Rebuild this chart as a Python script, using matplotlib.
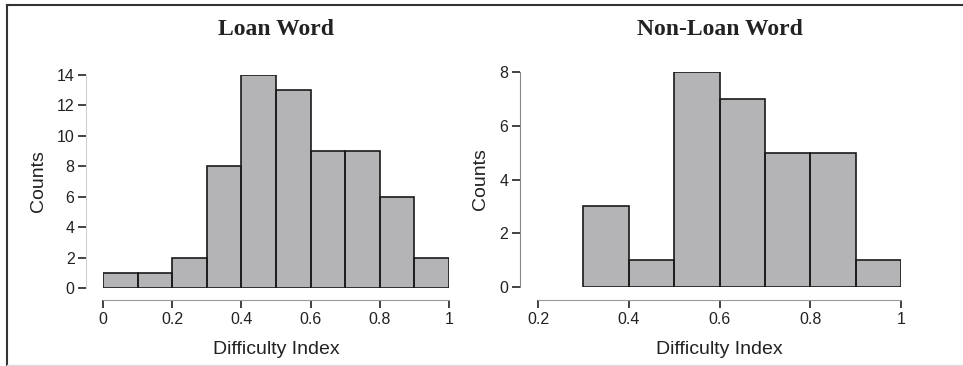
import numpy as np
import matplotlib
matplotlib.use('Agg')
import matplotlib.pyplot as plt
from matplotlib.lines import Line2D

# histogram data
loan_edges = [0.0, 0.1, 0.2, 0.3, 0.4, 0.5, 0.6, 0.7, 0.8, 0.9, 1.0]
loan_counts = [1, 1, 2, 8, 14, 13, 9, 9, 6, 2]
nonloan_edges = [0.3, 0.4, 0.5, 0.6, 0.7, 0.8, 0.9, 1.0]
nonloan_counts = [3, 1, 8, 7, 5, 5, 1]

loan_xticks = [0, 0.2, 0.4, 0.6, 0.8, 1]
loan_xlabels = ['0', '0.2', '0.4', '0.6', '0.8', '1']
loan_yticks = [0, 2, 4, 6, 8, 10, 12, 14]
nonloan_xticks = [0.2, 0.4, 0.6, 0.8, 1]
nonloan_xlabels = ['0.2', '0.4', '0.6', '0.8', '1']
nonloan_yticks = [0, 2, 4, 6, 8]

W, H = 963, 366
fig = plt.figure(figsize=(W / 100, H / 100), dpi=100)
plt.rcParams['font.family'] = 'Liberation Sans'

# R-like detached axes
def r_hist(rect, edges, counts, xlim, ylim, xticks, xlabels, yticks, title,
           yoff, xoff, title_pad, left_col):
    ax = fig.add_axes(rect)
    ax.stairs(counts, edges, fill=True, facecolor='#b4b4b6', edgecolor='none')
    ax.bar(edges[:-1], counts, width=np.diff(edges), align='edge',
           facecolor='none', edgecolor='#1a1a1a', linewidth=1.2)
    ax.set_xlim(*xlim)
    ax.set_ylim(*ylim)
    for s in ['top', 'right']:
        ax.spines[s].set_visible(False)
    ax.spines['left'].set_position(('outward', yoff))
    ax.spines['bottom'].set_position(('outward', xoff))
    ax.spines['left'].set_bounds(yticks[0], yticks[-1])
    ax.spines['bottom'].set_bounds(xticks[0], xticks[-1])
    ax.spines['left'].set_color(left_col)
    ax.spines['bottom'].set_color('#9a9a9a')
    ax.set_xticks(xticks)
    ax.set_xticklabels(xlabels)
    ax.set_yticks(yticks)
    ax.tick_params(axis='x', length=6, width=1.2, color='#222222', pad=2.5,
                   labelsize=11.5, labelcolor='#222222')
    ax.tick_params(axis='y', length=5.5, width=1.2, color='#222222', pad=3,
                   labelsize=11.5, labelcolor='#222222')
    ax.set_xlabel('Difficulty Index', fontsize=14, labelpad=10, color='#222222')
    ax.set_ylabel('Counts', fontsize=14, labelpad=7, color='#222222')
    ax.set_title(title, fontfamily='Liberation Serif', fontweight='bold',
                 fontsize=17, pad=title_pad, color='#222222')
    return ax

r_hist([103 / W, 1 - 288 / H, 346 / W, 213 / H], loan_edges, loan_counts,
       (0, 1), (0, 14), loan_xticks, loan_xlabels, loan_yticks, 'Loan Word',
       12, 8.6, 28.5, '#d0d0d0')
r_hist([538 / W, 1 - 287 / H, 363 / W, 215 / H], nonloan_edges, nonloan_counts,
       (0.2, 1), (0, 8), nonloan_xticks, nonloan_xlabels, nonloan_yticks,
       'Non-Loan Word', 13, 9.4, 26.5, '#888888')

# outer frame of the figure
fig.add_artist(Line2D([7 / W, 1], [1 - 5 / H, 1 - 5 / H], color='#333333', lw=1.5))
fig.add_artist(Line2D([7 / W, 7 / W], [0, 1 - 5 / H], color='#333333', lw=1.5))
fig.add_artist(Line2D([7 / W, 1], [1.5 / H, 1.5 / H], color='#dddddd', lw=1))

fig.savefig('out.png', dpi=100)
